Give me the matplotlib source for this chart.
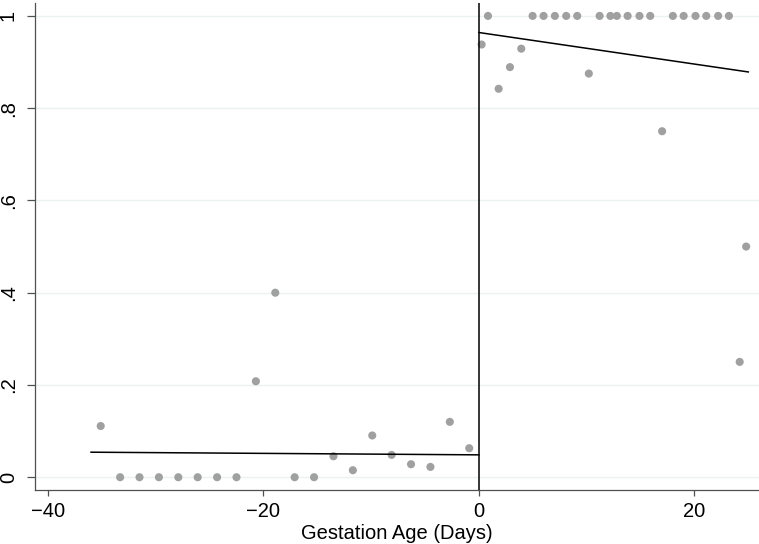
import matplotlib
matplotlib.use("Agg")
import matplotlib.pyplot as plt
import numpy as np

# Binned means below the cutoff
left_x = [-35.1, -33.3, -31.5, -29.7, -27.9, -26.1, -24.3, -22.5, -20.7, -18.9,
          -17.1, -15.3, -13.5, -11.7, -9.9, -8.1, -6.3, -4.5, -2.7, -0.9]
left_y = [0.111, 0.0, 0.0, 0.0, 0.0, 0.0, 0.0, 0.0, 0.208, 0.400,
          0.0, 0.0, 0.0455, 0.0152, 0.0905, 0.0484, 0.0282, 0.0224, 0.120, 0.0629]

# Binned means above the cutoff
right_x = [0.25, 0.84, 1.83, 2.88, 3.93, 4.98, 6.0, 7.05, 8.1, 9.12,
           10.2, 11.2, 12.2, 12.8, 13.8, 14.9, 15.9, 17.0, 18.0, 19.0,
           20.1, 21.1, 22.2, 23.2, 24.2, 24.8]
right_y = [0.938, 1.0, 0.842, 0.889, 0.929, 1.0, 1.0, 1.0, 1.0, 1.0,
           0.875, 1.0, 1.0, 1.0, 1.0, 1.0, 1.0, 0.75, 1.0, 1.0,
           1.0, 1.0, 1.0, 1.0, 0.25, 0.5]

# Linear fits on each side: (intercept, slope, x range)
left_fit = (0.0485, -0.00016, (-36.0, 0.0))
right_fit = (0.964, -0.00342, (0.0, 25.0))

x_ticks = [-40, -20, 0, 20]
y_ticks = [0, 0.2, 0.4, 0.6, 0.8, 1.0]
y_tick_labels = ["0", ".2", ".4", ".6", ".8", "1"]

plt.rcParams["font.family"] = ["Liberation Sans", "DejaVu Sans"]

fig = plt.figure(figsize=(7.59, 5.44), dpi=100)
ax = fig.add_axes([0.0461, 0.099, 0.954, 0.8955])

ax.set_xlim(-41.2, 26.0)
ax.set_ylim(-0.028, 1.028)

for yt in y_ticks:
    ax.axhline(yt, color="#eaf2f3", lw=1.0, zorder=0)

ax.scatter(left_x, left_y, s=34, color="#a0a0a0", edgecolors="none", zorder=3)
ax.scatter(right_x, right_y, s=34, color="#a0a0a0", edgecolors="none", zorder=3)

for b0, b1, (x0, x1) in (left_fit, right_fit):
    xs = np.array([x0, x1])
    ax.plot(xs, b0 + b1 * xs, color="black", lw=1.1, zorder=4)

ax.axvline(0, color="black", lw=1.1, zorder=4)

ax.set_xticks(x_ticks)
ax.set_yticks(y_ticks)
ax.set_yticklabels(y_tick_labels, rotation=90, va="center")
ax.tick_params(axis="both", direction="out", color="#505050", width=0.9,
               labelsize=14.5, labelcolor="black")
ax.tick_params(axis="y", length=5.8, pad=6.5)
ax.tick_params(axis="x", length=4.5, pad=4)

for side in ("top", "right"):
    ax.spines[side].set_visible(False)
for side in ("left", "bottom"):
    ax.spines[side].set_color("#505050")
    ax.spines[side].set_linewidth(0.9)

ax.set_xlabel("Gestation Age (Days)", fontsize=14.5, labelpad=2.5)

fig.savefig("out.png", dpi=100)
